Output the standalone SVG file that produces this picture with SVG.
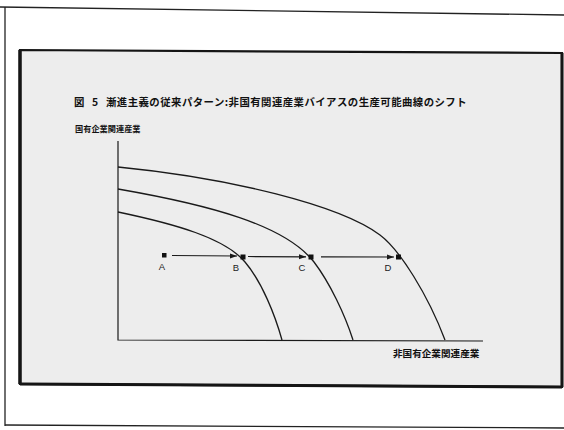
<svg xmlns="http://www.w3.org/2000/svg" width="564" height="430" viewBox="0 0 564 430">
<style>
.jp{font-family:"Noto Sans CJK JP","Noto Sans",sans-serif;fill:#111;font-weight:bold}
.lbl{font-family:"Liberation Sans",Arial,sans-serif;font-size:9.5px;fill:#222;text-anchor:middle}
.curve{fill:none;stroke:#1a1a1a;stroke-width:1.3}
.axis{fill:none;stroke:#1a1a1a;stroke-width:1.2}
.pt{fill:#111}
.arr{stroke:#1a1a1a;stroke-width:1.2;fill:none;marker-end:url(#ah)}
</style>
<defs>
<marker id="ah" markerWidth="8" markerHeight="6" refX="7" refY="3" orient="auto" markerUnits="userSpaceOnUse">
<path d="M0,0.5 L7,3 L0,5.5 z" fill="#1a1a1a"/>
</marker>
</defs>
<rect width="564" height="430" fill="#fff"/>
<g id="outer-frame">
<path d="M0,7 L564,15" stroke="#222" stroke-width="1.3" fill="none"/>
<path d="M5,7 L5,426" stroke="#222" stroke-width="1.3" fill="none"/>
<path d="M5,425 L564,428" stroke="#222" stroke-width="1.3" fill="none"/>
</g>
<g id="panel">
<polygon points="20,50 562,53 562,387 20,384" fill="#ededed" stroke="#151515" stroke-width="2.2"/>
<path d="M20,50 L20,384" stroke="#151515" stroke-width="3.5"/>
<path d="M20,384 L562,387" stroke="#151515" stroke-width="3"/>
<path d="M562,53 L562,387" stroke="#151515" stroke-width="3"/>
</g>
<g id="title">
<text class="jp" x="74" y="106" font-size="10.4">図 <tspan x="92">5</tspan><tspan x="106" letter-spacing="0.45">漸進主義の従来パターン:非国有関連産業バイアスの生産可能曲線のシフト</tspan></text>
</g>
<g id="axes">
<path class="axis" d="M118,141 L118,340 L483,341"/>
<text id="y-label" class="jp" x="75" y="132" font-size="8.2">国有企業関連産業</text>
<text id="x-label" class="jp" x="393" y="357" font-size="9.6">非国有企業関連産業</text>
</g>
<g id="ppc1"><path class="curve" d="M118,212 C175,224 225,238 245,262 C262,282 275,315 282,340"/></g>
<g id="ppc2"><path class="curve" d="M118,189 C210,205 285,225 314,262 C330,283 345,315 353,340"/></g>
<g id="ppc3"><path class="curve" d="M118,167 C230,178 340,205 380,235 C400,250 428,295 445,340"/></g>
<g id="connectors">
<path class="arr" d="M172,255.5 L237,256"/>
<path class="arr" d="M248,256.5 L306,256.8"/>
<path class="arr" d="M321,256.8 L394,257"/>
</g>
<g id="A"><rect class="pt" x="162" y="253" width="4.5" height="4.5"/><text class="lbl" x="162" y="270">A</text></g>
<g id="B"><rect class="pt" x="240.5" y="254.5" width="5" height="5"/><text class="lbl" x="236" y="271">B</text></g>
<g id="C"><rect class="pt" x="308.5" y="254.5" width="5" height="5"/><text class="lbl" x="302" y="271">C</text></g>
<g id="D"><rect class="pt" x="396" y="254.5" width="5" height="5"/><text class="lbl" x="388" y="271">D</text></g>
</svg>
